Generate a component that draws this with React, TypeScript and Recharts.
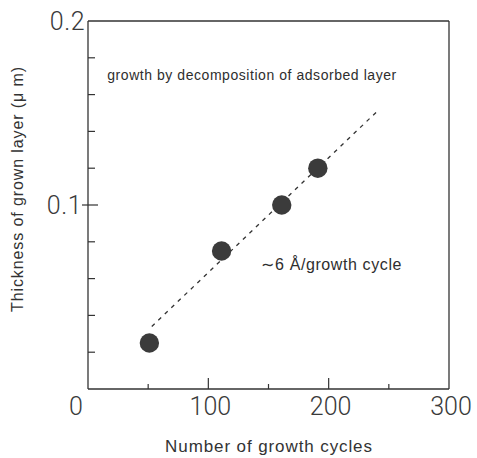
import React from 'react';
import {
  ScatterChart,
  Scatter,
  XAxis,
  YAxis,
  ReferenceLine,
  ReferenceDot,
} from 'recharts';

// ---- data ----
const cycles = [51, 111, 161, 191];
const thickness = [0.025, 0.075, 0.1, 0.12];
const fitCycles = [53, 240];
const fitThickness = [0.034, 0.1507];
const xTicks = [0, 50, 100, 150, 200, 250, 300];
const xLabeled = [0, 100, 200, 300];
const yTicks = [0, 0.02, 0.04, 0.06, 0.08, 0.1, 0.12, 0.14, 0.16, 0.18, 0.2];
const yLabeled = [0.1, 0.2];

const points = cycles.map((c, i) => ({ x: c, y: thickness[i] }));

const INK = '#333';
const TICK_FONT = "'Liberation Sans', Arial, sans-serif";
const NUM_FONT = "Roboto, 'Liberation Sans', sans-serif";

const BottomTick = (props: any) => {
  const { x, y, payload } = props;
  const v = payload.value;
  const major = v === 100 || v === 200;
  const len = major ? 11 : v === 0 || v === 300 ? 0 : 5;
  return (
    <g>
      {len > 0 && <line x1={x} x2={x} y1={y} y2={y - len} stroke={INK} strokeWidth={1.2} />}
      {xLabeled.includes(v) && (
        <text
          x={v === 0 ? x - 12 : x + 2}
          y={y + 26}
          textAnchor="middle"
          fontFamily={NUM_FONT}
          fontWeight={300}
          fontSize={25}
          fill="#3a3a3a"
        >
          {v}
        </text>
      )}
    </g>
  );
};

const TopTick = (props: any) => {
  const { x, y, payload } = props;
  const v = payload.value;
  if (v === 0 || v === 300) return <g />;
  return <line x1={x} x2={x} y1={y} y2={y + 5} stroke={INK} strokeWidth={1.2} />;
};

const LeftTick = (props: any) => {
  const { x, y, payload } = props;
  const v = payload.value;
  const labeled = yLabeled.some((t) => Math.abs(t - v) < 1e-9);
  if (Math.abs(v) < 1e-9) return <g />;
  return (
    <g>
      {labeled ? (
        Math.abs(v - 0.2) < 1e-9 ? null : (
          <line x1={x - 6} x2={x + 10} y1={y} y2={y} stroke={INK} strokeWidth={1.2} />
        )
      ) : (
        <line x1={x} x2={x + 7} y1={y} y2={y} stroke={INK} strokeWidth={1.2} />
      )}
      {labeled && (
        <text
          x={x - (Math.abs(v - 0.2) < 1e-9 ? 3 : 6)}
          y={y + 9}
          textAnchor="end"
          fontFamily={NUM_FONT}
          fontWeight={300}
          fontSize={25}
          letterSpacing={0.5}
          fill="#3a3a3a"
        >
          {v.toFixed(1)}
        </text>
      )}
    </g>
  );
};

const RightTick = (props: any) => {
  const { x, y, payload } = props;
  const v = payload.value;
  if (Math.abs(v) < 1e-9 || Math.abs(v - 0.2) < 1e-9) return <g />;
  return <line x1={x} x2={x - 5} y1={y} y2={y} stroke={INK} strokeWidth={1.2} />;
};

const Dot = (props: any) => {
  const { cx, cy } = props;
  return <circle cx={cx} cy={cy} r={9.7} fill="#3b3b3b" />;
};

const TextLabel = (text: string, size: number, spacing: number) => (props: any) => {
  const { viewBox } = props;
  const cx = viewBox.x + (viewBox.width || 0) / 2;
  const cy = viewBox.y + (viewBox.height || 0) / 2;
  return (
    <text
      x={cx}
      y={cy}
      textAnchor="middle"
      dominantBaseline="central"
      fontFamily={TICK_FONT}
      fontSize={size}
      letterSpacing={spacing}
      fill="#2e2e2e"
    >
      {text}
    </text>
  );
};

export default function App() {
  return (
    <div style={{ position: 'absolute', left: 0, top: 0, width: 477, height: 458, background: '#fff' }}>
      <ScatterChart
        width={477}
        height={458}
        margin={{ top: 20, right: 27, bottom: 68, left: 87 }}
      >
        <XAxis
          xAxisId="b"
          type="number"
          dataKey="x"
          domain={[0, 300]}
          ticks={xTicks}
          interval={0}
          height={1}
          tickSize={0}
          tickMargin={0}
          tickLine={false}
          tick={<BottomTick />}
          axisLine={{ stroke: INK, strokeWidth: 1.3 }}
        />
        <XAxis
          xAxisId="t"
          orientation="top"
          type="number"
          dataKey="x"
          domain={[0, 300]}
          ticks={xTicks}
          interval={0}
          height={1}
          tickSize={0}
          tickMargin={0}
          tickLine={false}
          tick={<TopTick />}
          axisLine={{ stroke: INK, strokeWidth: 1.3 }}
        />
        <YAxis
          yAxisId="l"
          type="number"
          dataKey="y"
          domain={[0, 0.2]}
          ticks={yTicks}
          interval={0}
          width={1}
          tickSize={0}
          tickMargin={0}
          tickLine={false}
          tick={<LeftTick />}
          axisLine={{ stroke: INK, strokeWidth: 1.3 }}
        />
        <YAxis
          yAxisId="r"
          orientation="right"
          type="number"
          dataKey="y"
          domain={[0, 0.2]}
          ticks={yTicks}
          interval={0}
          width={1}
          tickSize={0}
          tickMargin={0}
          tickLine={false}
          tick={<RightTick />}
          axisLine={{ stroke: INK, strokeWidth: 1.3 }}
        />
        <ReferenceLine
          xAxisId="b"
          yAxisId="l"
          segment={[
            { x: fitCycles[0], y: fitThickness[0] },
            { x: fitCycles[1], y: fitThickness[1] },
          ]}
          stroke={INK}
          strokeWidth={1.3}
          strokeDasharray="4 5"
          ifOverflow="visible"
        />
        <Scatter
          xAxisId="b"
          yAxisId="l"
          data={points}
          shape={<Dot />}
          isAnimationActive={false}
        />
        <ReferenceDot
          xAxisId="b"
          yAxisId="l"
          x={136.3}
          y={0.1707}
          r={0}
          ifOverflow="visible"
          label={TextLabel('growth by decomposition of adsorbed layer', 14, 0.55)}
        />
        <ReferenceDot
          xAxisId="b"
          yAxisId="l"
          x={202.6}
          y={0.0674}
          r={0}
          ifOverflow="visible"
          label={TextLabel('\u223C6 \u00C5/growth cycle', 16, 0.6)}
        />
      </ScatterChart>
      <svg
        width={477}
        height={458}
        style={{ position: 'absolute', left: 0, top: 0, pointerEvents: 'none' }}
      >
        <text
          x={269}
          y={446}
          textAnchor="middle"
          dominantBaseline="central"
          fontFamily={TICK_FONT}
          fontSize={17}
          letterSpacing={0.9}
          fill="#333"
        >
          Number of growth cycles
        </text>
        <text
          transform="translate(17,189) rotate(-90)"
          textAnchor="middle"
          dominantBaseline="central"
          fontFamily={TICK_FONT}
          fontSize={16}
          letterSpacing={0.9}
          fill="#333"
        >
          Thickness of grown layer (μ m)
        </text>
      </svg>
    </div>
  );
}
